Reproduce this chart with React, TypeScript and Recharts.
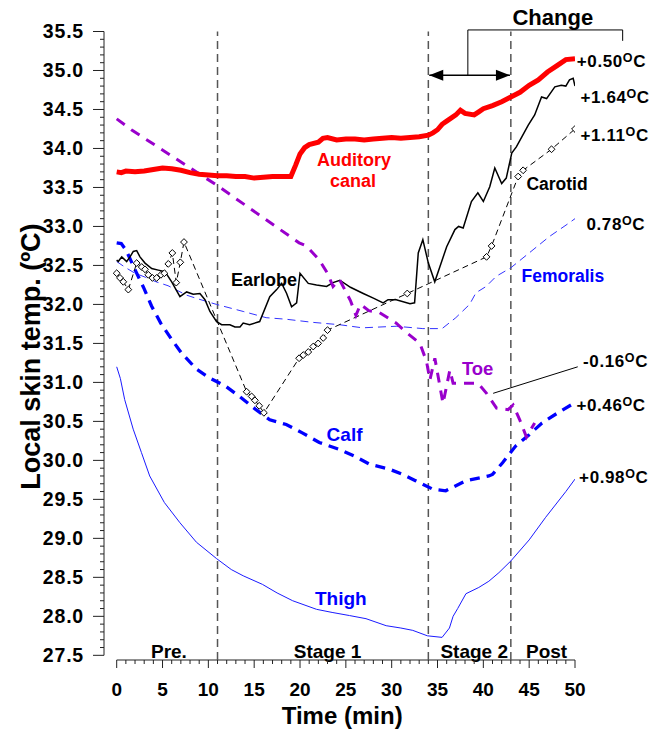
import React from 'react';
import { LineChart, Line, XAxis, YAxis, ReferenceLine, ReferenceDot } from 'recharts';

type Pt = { x: number; y: number };
const pts = (rows: number[][]): Pt[] => rows.map(([x, y]) => ({ x, y }));

const FONT = '"Liberation Sans", Arial, Helvetica, sans-serif';

// axis ranges (x axis starts a little left of 0, y axis sits slightly under 27.5)
const X_MIN = -1.385;
const X_MAX = 50;
const Y_MIN = 27.44;
const Y_MAX = 35.5;

const X_LABELS = [0, 5, 10, 15, 20, 25, 30, 35, 40, 45, 50];
const Y_LABELS = [27.5, 28.0, 28.5, 29.0, 29.5, 30.0, 30.5, 31.0, 31.5, 32.0, 32.5, 33.0, 33.5, 34.0, 34.5, 35.0, 35.5];
const X_TICKS = Array.from({ length: 51 }, (_, i) => i);
const Y_TICKS = Array.from({ length: 81 }, (_, i) => +(27.5 + i * 0.1).toFixed(1));

const STAGE_BOUNDS = [11, 34, 43];
const STAGES = ['Pre.', 'Stage 1', 'Stage 2', 'Post'];
const CHANGES = ['+0.50', '+1.64', '+1.11', '0.78', '-0.16', '+0.46', '+0.98'];

const CANAL = pts([
  [0, 33.7], [0.5, 33.69], [1, 33.71], [2, 33.7], [3, 33.71], [4, 33.73], [5, 33.75], [6, 33.74],
  [7, 33.72], [8, 33.69], [9, 33.67], [10, 33.66], [11, 33.65], [12, 33.65], [13, 33.64], [14, 33.64],
  [15, 33.62], [16, 33.63], [17, 33.64], [18, 33.64], [19, 33.64], [19.5, 33.78], [20, 33.93],
  [20.5, 34.01], [21, 34.05], [22, 34.08], [22.5, 34.13], [23, 34.14], [24, 34.11], [25, 34.12],
  [26, 34.12], [27, 34.11], [28, 34.12], [29, 34.13], [30, 34.14], [31, 34.13], [32, 34.14],
  [33, 34.15], [34, 34.17], [34.5, 34.2], [35, 34.24], [35.5, 34.31], [36, 34.35], [37, 34.43],
  [37.5, 34.49], [38, 34.45], [39, 34.43], [39.5, 34.47], [40, 34.51], [41, 34.55], [42, 34.6],
  [43, 34.66], [44, 34.72], [45, 34.81], [46, 34.88], [47, 34.98], [48, 35.06], [49, 35.14], [50, 35.15],
]);

const EARLOBE = pts([
  [0, 32.57], [0.17, 32.55], [0.55, 32.61], [1.09, 32.55], [1.45, 32.61], [1.81, 32.68], [2.18, 32.69],
  [2.54, 32.61], [3.09, 32.53], [3.82, 32.46], [4.54, 32.44], [5.27, 32.42], [6.0, 32.29], [6.9, 32.1],
  [7.63, 32.16], [8.35, 32.13], [9.08, 32.14], [9.63, 32.06], [10.17, 31.91], [10.9, 31.78],
  [11.45, 31.74], [12.35, 31.74], [12.9, 31.71], [13.45, 31.71], [13.8, 31.76], [14.5, 31.74],
  [15.6, 31.78], [16.7, 32.1], [17.45, 32.19], [18.0, 32.27], [18.54, 32.14], [19.08, 31.97],
  [19.63, 32.02], [20.0, 32.4], [20.9, 32.27], [21.8, 32.25], [22.9, 32.23], [23.6, 32.28],
  [24.35, 32.31], [25.5, 32.22], [26.9, 32.14], [28.0, 32.08], [29.07, 32.02], [29.6, 32.06],
  [30.5, 32.06], [32.0, 32.01], [32.5, 32.02], [32.9, 32.66], [33.4, 32.83], [34.0, 32.53],
  [34.7, 32.29], [35.25, 32.48], [36.0, 32.74], [36.9, 32.96], [37.3, 33.0], [37.8, 32.98],
  [38.7, 33.32], [39.4, 33.43], [40.0, 33.32], [40.7, 33.51], [41.25, 33.75], [42.0, 33.55],
  [42.5, 33.62], [43.1, 33.94], [43.6, 34.02], [44.2, 34.15], [44.9, 34.3], [45.6, 34.43],
  [46.35, 34.66], [46.9, 34.64], [47.8, 34.79], [48.5, 34.81], [49.0, 34.8], [49.4, 34.88],
  [49.8, 34.9], [50, 34.8],
]);

const CAROTID = pts([
  [0, 32.4], [0.36, 32.34], [0.72, 32.29], [1.27, 32.19], [2.18, 32.53], [2.73, 32.48], [3.09, 32.45],
  [3.45, 32.38], [3.9, 32.34], [4.36, 32.34], [4.83, 32.38], [5.2, 32.4], [5.63, 32.52], [6.07, 32.66],
  [6.5, 32.28], [6.94, 32.54], [7.34, 32.8], [14.18, 30.88], [14.72, 30.82], [15.08, 30.77],
  [15.55, 30.7], [16.06, 30.61], [19.9, 31.31], [20.35, 31.35], [20.9, 31.39], [21.44, 31.46],
  [21.98, 31.5], [22.53, 31.57], [23.0, 31.67], [31.7, 32.14], [40.35, 32.61], [40.9, 32.75],
  [43.8, 33.64], [44.34, 33.72], [47.44, 33.99], [50, 34.25],
]);

const FEMORALIS = pts([
  [0, 32.55], [1, 32.47], [2, 32.4], [3.1, 32.35], [4.3, 32.29], [5.6, 32.24], [7.6, 32.12],
  [8.9, 32.07], [10.9, 32.0], [13.8, 31.91], [16.3, 31.83], [18.5, 31.81], [21.4, 31.77], [24.3, 31.74],
  [26.8, 31.7], [30.5, 31.72], [33.4, 31.69], [35.5, 31.69], [37.0, 31.83], [38.5, 32.0], [39.2, 32.15],
  [40.3, 32.23], [41.4, 32.36], [43.0, 32.47], [45.0, 32.66], [47.2, 32.87], [49.3, 33.04], [50, 33.1],
]);

const TOE = pts([
  [0, 34.38], [1.6, 34.24], [10.9, 33.53], [19.9, 32.79], [20.7, 32.75], [22.1, 32.57], [23.0, 32.4],
  [23.6, 32.23], [24.3, 32.32], [25.5, 32.05], [26.1, 31.86], [26.6, 32.0], [27.5, 31.92], [28.6, 31.9],
  [30.5, 31.76], [31.6, 31.64], [33.08, 31.5], [33.8, 31.27], [34.17, 31.03], [34.71, 31.31],
  [35.6, 30.73], [36.35, 31.16], [36.7, 30.99], [39.4, 30.99], [40.35, 30.86], [41.44, 30.67],
  [42.7, 30.65], [43.25, 30.71], [43.97, 30.52], [44.7, 30.3], [45.6, 30.48],
]);

const CALF = pts([
  [0, 32.79], [0.5, 32.78], [1.0, 32.7], [1.4, 32.6], [2.1, 32.42], [3.0, 32.2], [3.8, 31.98],
  [4.8, 31.76], [6.0, 31.55], [7.05, 31.38], [8.7, 31.17], [10.1, 31.06], [11.9, 30.95], [13.4, 30.82],
  [15.2, 30.65], [16.7, 30.52], [18.5, 30.46], [20.3, 30.35], [22.1, 30.23], [24.3, 30.14],
  [26.0, 30.05], [27.6, 29.95], [29.7, 29.89], [31.2, 29.82], [32.6, 29.74], [34.5, 29.63],
  [35.9, 29.61], [38.1, 29.74], [40.6, 29.8], [41.0, 29.82], [42.1, 29.97], [43.5, 30.18],
  [45.0, 30.33], [46.4, 30.48], [48.0, 30.6], [49.7, 30.72], [50, 30.73],
]);

const THIGH = pts([
  [0, 31.2], [0.4, 31.05], [0.87, 30.78], [1.8, 30.4], [2.7, 30.1], [3.6, 29.8], [5.2, 29.46],
  [6.9, 29.2], [8.7, 28.95], [10.9, 28.74], [12.5, 28.6], [13.8, 28.52], [15.9, 28.41], [17.5, 28.3],
  [19.2, 28.2], [21.8, 28.09], [23.5, 28.05], [25.4, 28.01], [27.2, 27.97], [29.4, 27.88], [31.0, 27.85],
  [32.3, 27.82], [33.9, 27.75], [35.5, 27.73], [36.3, 27.85], [36.7, 28.0], [37.2, 28.1], [38.1, 28.29],
  [39.5, 28.37], [40.6, 28.45], [41.7, 28.56], [43.0, 28.71], [45.0, 28.98], [46.8, 29.27],
  [49.0, 29.6], [50, 29.76],
]);

// where the texts sit, in data units
const STAGE_POS = [[5.7, 27.47], [23.0, 27.47], [39.0, 27.47], [46.9, 27.47]];
const CHANGE_POS = [[50.2, 35.05], [50.6, 34.58], [50.6, 34.09], [51.25, 32.96], [50.88, 31.2], [50.16, 30.63], [50.45, 29.71]];

const textShape = (text: string, fill: string, size: number, anchor: string = 'start') =>
  (p: any) => (
    <text x={p.cx} y={p.cy} fill={fill} fontSize={size} fontWeight="bold" fontFamily={FONT} textAnchor={anchor}>
      {text}
    </text>
  );

const changeShape = (text: string) => (p: any) => (
  <text x={p.cx} y={p.cy} fill="#000" fontSize={17} fontWeight="bold" fontFamily={FONT} letterSpacing={0.6}>
    {text}
    <tspan fontSize={12.5} dy={-5}>O</tspan>
    <tspan fontSize={17} dy={5}>C</tspan>
  </text>
);

const renderXTick = (p: any) => {
  const v = p.payload.value;
  const major = v % 5 === 0;
  return (
    <g>
      <line x1={p.x} x2={p.x} y1={p.y} y2={p.y + (major ? 8 : 4)} stroke="#222" strokeWidth={1} />
      {major && X_LABELS.includes(v) && (
        <text x={p.x} y={p.y + 36} textAnchor="middle" fontSize={19} fontWeight="bold" fontFamily={FONT} fill="#000">
          {v}
        </text>
      )}
    </g>
  );
};

const renderYTick = (p: any) => {
  const v = p.payload.value;
  const major = Y_LABELS.includes(v);
  return (
    <g>
      <line x1={p.x - (major ? 11 : 4)} x2={p.x} y1={p.y} y2={p.y} stroke="#222" strokeWidth={1} />
      {major && (
        <text x={p.x - 20} y={p.y + 6.5} textAnchor="end" fontSize={19.5} fontWeight="bold" fontFamily={FONT}
          letterSpacing={0.8} fill="#000">
          {v.toFixed(1)}
        </text>
      )}
    </g>
  );
};

const renderDiamond = (p: any) => {
  const { cx, cy } = p;
  return (
    <path
      key={`d${p.index}`}
      d={`M${cx},${cy - 3.4}L${cx + 3.4},${cy}L${cx},${cy + 3.4}L${cx - 3.4},${cy}Z`}
      fill="#fff"
      stroke="#000"
      strokeWidth={1}
      strokeDasharray="none"
    />
  );
};

export default function App() {
  return (
    <div style={{ position: 'absolute', left: 0, top: 0, width: 667, height: 729, background: '#fff' }}>
      <LineChart width={667} height={729} margin={{ top: 31.5, right: 92, bottom: 0, left: 0 }}>
        <XAxis
          type="number" dataKey="x" domain={[X_MIN, X_MAX]} ticks={X_TICKS} interval={0} allowDataOverflow
          axisLine={false} tickLine={false} tickSize={0} tickMargin={0} tick={renderXTick} height={69}
        />
        <YAxis
          type="number" dataKey="y" domain={[Y_MIN, Y_MAX]} ticks={Y_TICKS} interval={0} allowDataOverflow
          axisLine={false} tickLine={false} tickSize={0} tickMargin={0} tick={renderYTick} width={104}
        />

        <ReferenceLine segment={[{ x: 0, y: Y_MIN }, { x: 50, y: Y_MIN }]} stroke="#222" strokeWidth={1} ifOverflow="visible" />
        <ReferenceLine segment={[{ x: X_MIN, y: 27.5 }, { x: X_MIN, y: 35.5 }]} stroke="#222" strokeWidth={1} ifOverflow="visible" />
        {STAGE_BOUNDS.map((b) => (
          <ReferenceLine key={b} x={b} stroke="#555" strokeWidth={1.5} strokeDasharray="8 5" />
        ))}

        <Line data={THIGH} dataKey="y" type="linear" stroke="#1a1aff" strokeWidth={1} dot={false} isAnimationActive={false} />
        <Line data={CALF} dataKey="y" type="linear" stroke="#0000ff" strokeWidth={3.3} strokeDasharray="10 7" dot={false} isAnimationActive={false} />
        <Line data={FEMORALIS} dataKey="y" type="linear" stroke="#3333ff" strokeWidth={1} strokeDasharray="8 5" dot={false} isAnimationActive={false} />
        <Line data={CAROTID} dataKey="y" type="linear" stroke="#000" strokeWidth={1} strokeDasharray="6 4" dot={renderDiamond} isAnimationActive={false} />
        <Line data={EARLOBE} dataKey="y" type="linear" stroke="#000" strokeWidth={1.5} dot={false} isAnimationActive={false} />
        <Line data={TOE} dataKey="y" type="linear" stroke="#9900cc" strokeWidth={3} strokeDasharray="10 8" dot={false} isAnimationActive={false} />
        <Line data={CANAL} dataKey="y" type="linear" stroke="#ff0000" strokeWidth={5} dot={false} isAnimationActive={false} />

        {/* leader to the toe change */}
        <ReferenceLine segment={[{ x: 41.07, y: 30.86 }, { x: 50.3, y: 31.2 }]} stroke="#000" strokeWidth={1} ifOverflow="visible" />

        {/* "Change" bracket and double arrow */}
        <ReferenceLine segment={[{ x: 38.31, y: 35.52 }, { x: 55.2, y: 35.52 }]} stroke="#000" strokeWidth={1} ifOverflow="visible" />
        <ReferenceLine segment={[{ x: 38.31, y: 35.52 }, { x: 38.31, y: 34.94 }]} stroke="#000" strokeWidth={1} ifOverflow="visible" />
        <ReferenceLine segment={[{ x: 55.2, y: 35.52 }, { x: 55.2, y: 35.38 }]} stroke="#000" strokeWidth={1} ifOverflow="visible" />
        <ReferenceLine segment={[{ x: 34.1, y: 34.94 }, { x: 42.9, y: 34.94 }]} stroke="#000" strokeWidth={1.5} ifOverflow="visible" />
        <ReferenceDot x={34.1} y={34.94} r={0} ifOverflow="visible"
          shape={(p: any) => <polygon points={`${p.cx},${p.cy} ${p.cx + 14},${p.cy - 5.5} ${p.cx + 14},${p.cy + 5.5}`} fill="#000" />} />
        <ReferenceDot x={42.9} y={34.94} r={0} ifOverflow="visible"
          shape={(p: any) => <polygon points={`${p.cx},${p.cy} ${p.cx - 14},${p.cy - 5.5} ${p.cx - 14},${p.cy + 5.5}`} fill="#000" />} />
        <ReferenceDot x={43.18} y={35.58} r={0} ifOverflow="visible" shape={textShape('Change', '#000', 22)} />

        {/* series names */}
        <ReferenceDot x={25.88} y={33.77} r={0} ifOverflow="visible" shape={textShape('Auditory', '#ff0000', 18, 'middle')} />
        <ReferenceDot x={25.77} y={33.51} r={0} ifOverflow="visible" shape={textShape('canal', '#ff0000', 18, 'middle')} />
        <ReferenceDot x={16.06} y={32.23} r={0} ifOverflow="visible" shape={textShape('Earlobe', '#000', 18, 'middle')} />
        <ReferenceDot x={44.7} y={33.47} r={0} ifOverflow="visible" shape={textShape('Carotid', '#000', 17.5)} />
        <ReferenceDot x={44.17} y={32.29} r={0} ifOverflow="visible" shape={textShape('Femoralis', '#0000ff', 17.5)} />
        <ReferenceDot x={37.66} y={31.09} r={0} ifOverflow="visible" shape={textShape('Toe', '#9900cc', 18.5)} />
        <ReferenceDot x={22.9} y={30.25} r={0} ifOverflow="visible" shape={textShape('Calf', '#0000ff', 19)} />
        <ReferenceDot x={21.63} y={28.15} r={0} ifOverflow="visible" shape={textShape('Thigh', '#0000ff', 19)} />

        {/* change values on the right */}
        {CHANGES.map((c, i) => (
          <ReferenceDot key={c} x={CHANGE_POS[i][0]} y={CHANGE_POS[i][1]} r={0} ifOverflow="visible" shape={changeShape(c)} />
        ))}

        {/* stage names */}
        {STAGES.map((s, i) => (
          <ReferenceDot key={s} x={STAGE_POS[i][0]} y={STAGE_POS[i][1]} r={0} ifOverflow="visible" shape={textShape(s, '#000', 19, 'middle')} />
        ))}

        {/* axis titles */}
        <ReferenceDot x={24.6} y={26.62} r={0} ifOverflow="visible" shape={textShape('Time (min)', '#000', 24, 'middle')} />
        <ReferenceDot x={-8.36} y={31.33} r={0} ifOverflow="visible"
          shape={(p: any) => (
            <text x={p.cx} y={p.cy} transform={`rotate(-90 ${p.cx} ${p.cy})`} textAnchor="middle"
              fontSize={27} fontWeight="bold" fontFamily={FONT} fill="#000">
              Local skin temp. (ºC)
            </text>
          )} />
      </LineChart>
    </div>
  );
}
